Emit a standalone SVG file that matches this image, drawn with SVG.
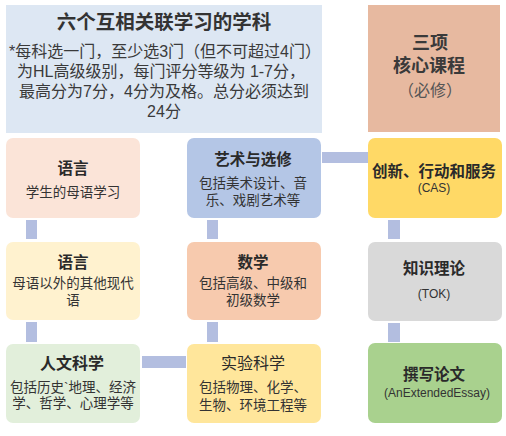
<svg xmlns="http://www.w3.org/2000/svg" width="506" height="436" viewBox="0 0 506 436">
<style>
text{font-family:"Liberation Sans","Noto Sans CJK SC",sans-serif;text-anchor:middle;fill:#2a2a2a}
.t{font-size:15.5px;font-weight:bold}
.s{font-size:13.5px;fill:#333}
.e{font-size:12px;fill:#333}
.hd{font-size:19px;font-weight:bold;fill:#333}
.nt{font-size:16px;fill:#3a3a3a}
.c{fill:#b3bee0}
</style>
<rect width="506" height="436" fill="#ffffff"/>
<g id="connectors">
<rect class="c" x="322" y="152" width="46" height="11"/>
<rect class="c" x="26" y="220" width="11" height="19"/>
<rect class="c" x="26" y="322" width="11" height="20"/>
<rect class="c" x="207" y="220" width="11" height="19"/>
<rect class="c" x="207" y="322" width="11" height="20"/>
<rect class="c" x="388" y="220" width="12" height="19"/>
<rect class="c" x="388" y="323" width="12" height="19"/>
<rect class="c" x="142" y="356" width="44" height="12"/>
</g>
<g id="subjects-header">
<rect x="6" y="5" width="316" height="128" fill="#dde7f3"/>
<text x="164" y="29" class="hd" style="font-size:19.5px">六个互相关联学习的学科</text>
<text x="165" y="57" class="nt" textLength="312" lengthAdjust="spacing">*每科选一门，至少选3门（但不可超过4门）</text>
<text x="161" y="77" class="nt">为HL高级级别，每门评分等级为 1-7分，</text>
<text x="164" y="97" class="nt">最高分为7分，4分为及格。总分必须达到</text>
<text x="164" y="117" class="nt">24分</text>
</g>
<g id="core-header">
<rect x="368" y="5" width="132" height="127" fill="#e7b9a0"/>
<text x="430" y="49" class="hd" style="font-size:18px;fill:#3a3a3a">三项</text>
<text x="429" y="72" class="hd" style="font-size:18px;fill:#3a3a3a">核心课程</text>
<text x="430" y="96" class="nt" style="fill:#555">（必修）</text>
</g>
<g id="lang1">
<rect x="6" y="138" width="134" height="80" rx="7" fill="#fbe4d8"/>
<text x="73" y="174" class="t">语言</text>
<text x="73" y="197" class="s">学生的母语学习</text>
</g>
<g id="arts">
<rect x="187" y="138" width="134" height="80" rx="7" fill="#b4c6e6"/>
<text x="253" y="165" class="t">艺术与选修</text>
<text x="253" y="188" class="s">包括美术设计、音</text>
<text x="253" y="205" class="s">乐、戏剧艺术等</text>
</g>
<g id="lang2">
<rect x="6" y="242" width="134" height="78" rx="7" fill="#fff2cf"/>
<text x="73" y="268" class="t">语言</text>
<text x="73" y="288" class="s">母语以外的其他现代</text>
<text x="73" y="305" class="s">语</text>
</g>
<g id="math">
<rect x="187" y="242" width="134" height="78" rx="7" fill="#f7caae"/>
<text x="253" y="268" class="t">数学</text>
<text x="253" y="288" class="s">包括高级、中级和</text>
<text x="253" y="305" class="s">初级数学</text>
</g>
<g id="humanities">
<rect x="6" y="344" width="134" height="79" rx="7" fill="#e2efdb"/>
<text x="72" y="369" class="t" style="font-size:16px">人文科学</text>
<text x="73" y="392" class="s">包括历史`地理、经济</text>
<text x="73" y="408" class="s">学、哲学、心理学等</text>
</g>
<g id="sciences">
<rect x="187" y="344" width="134" height="79" rx="7" fill="#ffe69b"/>
<text x="253" y="369" class="t" style="font-size:16px;font-weight:normal">实验科学</text>
<text x="253" y="392" class="s">包括物理、化学、</text>
<text x="253" y="410" class="s">生物、环境工程等</text>
</g>
<g id="cas">
<rect x="368" y="138" width="134" height="80" rx="7" fill="#ffd966"/>
<text x="434" y="177" class="t">创新、行动和服务</text>
<text x="434" y="192" class="e">(CAS)</text>
</g>
<g id="tok">
<rect x="368" y="242" width="134" height="79" rx="7" fill="#d9d9d9"/>
<text x="434" y="274" class="t">知识理论</text>
<text x="434" y="298" class="e">(TOK)</text>
</g>
<g id="essay">
<rect x="368" y="343" width="134" height="80" rx="7" fill="#a9d18e"/>
<text x="434" y="380" class="t">撰写论文</text>
<text x="437" y="397" class="e">(AnExtendedEssay)</text>
</g>
</svg>
